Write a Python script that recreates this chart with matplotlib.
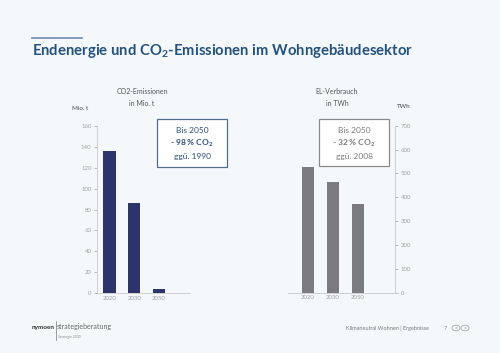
import matplotlib
matplotlib.use('Agg')
from matplotlib import pyplot as plt
from matplotlib.patches import Rectangle, Circle
from matplotlib.lines import Line2D

years = ['2020', '2030', '2050']
co2_values = [136, 86, 3.5]
el_values = [527, 464, 372]
co2_ticks = [0, 20, 40, 60, 80, 100, 120, 140, 160]
el_ticks = [0, 100, 200, 300, 400, 500, 600, 700]

bg_color = '#f5f8fb'
navy = '#2d336b'
grey_bar = '#7a7a7f'
title_color = '#22527f'
tick_color = '#a0a0a0'
spine_color = '#c8c8c8'

plt.rcParams['font.family'] = ['Lato', 'DejaVu Sans']
plt.rcParams['mathtext.fontset'] = 'custom'
plt.rcParams['mathtext.rm'] = 'Lato'
plt.rcParams['mathtext.bf'] = 'Lato:bold'

fig = plt.figure(figsize=(5, 3.53), dpi=100)
fig.patch.set_facecolor(bg_color)


def px(x, y):
    # pixel coords (top-left origin) -> figure fraction
    return x / 500, 1 - y / 353


def style_axes(ax, side):
    ax.set_facecolor('none')
    for s in ['top', 'right', 'left', 'bottom']:
        ax.spines[s].set_visible(False)
    for s in ['bottom', side]:
        ax.spines[s].set_visible(True)
        ax.spines[s].set_color(spine_color)
        ax.spines[s].set_linewidth(0.6)
    ax.tick_params(axis='y', colors=tick_color, labelsize=4.3, length=2, width=0.5, pad=2)
    ax.tick_params(axis='x', colors=tick_color, labelsize=4.3, length=0, pad=2)
    if side == 'right':
        ax.yaxis.tick_right()


# left chart: CO2
ax1 = fig.add_axes([97 / 500, 60 / 353, 93 / 500, 167 / 353])
ax1.bar(range(len(years)), co2_values, width=0.5, color=navy)
ax1.set_xlim(-0.505, 3.25)
ax1.set_ylim(0, 160)
ax1.set_yticks(co2_ticks)
ax1.set_xticks(range(len(years)))
ax1.set_xticklabels(years)
style_axes(ax1, 'left')

# right chart: electricity
ax2 = fig.add_axes([288 / 500, 60.3 / 353, 107 / 500, 167 / 353])
ax2.bar(range(len(years)), el_values, width=0.47, color=grey_bar)
ax2.set_xlim(-0.8, 3.5)
ax2.set_ylim(0, 700)
ax2.set_yticks(el_ticks)
ax2.set_xticks(range(len(years)))
ax2.set_xticklabels(years)
style_axes(ax2, 'right')

# title and accent line
fig.add_artist(Line2D([32 / 500, 82 / 500], [1 - 38 / 353] * 2, color='#6a8bab', lw=1.2))
fig.text(*px(32, 51), r'Endenergie und CO$_\mathbf{2}$-Emissionen im Wohngebäudesektor',
         fontsize=10.7, fontweight='bold', color=title_color, va='center', ha='left')

# chart headings
fig.text(*px(142, 92), 'CO2-Emissionen', fontsize=5, color='#555555', ha='center', va='center')
fig.text(*px(142, 104), 'in Mio. t', fontsize=5, color='#555555', ha='center', va='center')
fig.text(*px(80, 109), 'Mio. t', fontsize=4.5, color='#444444', ha='center', va='center')

fig.text(*px(337, 92), 'EL-Verbrauch', fontsize=5, color='#555555', ha='center', va='center')
fig.text(*px(337, 104), 'in TWh', fontsize=5, color='#555555', ha='center', va='center')
fig.text(*px(404, 107), 'TWh', fontsize=4.5, color='#444444', ha='center', va='center')

# annotation boxes
boxes = [
    (157, 119, 70, 48, '#4f6f8c', '#2d4a7a', 'Bis 2050', r'- 98 % CO$_\mathbf{2}$', 'ggü. 1990'),
    (319, 119, 70, 47, '#8a8a8a', '#7a7a7a', 'Bis 2050', r'- 32 % CO$_\mathbf{2}$', 'ggü. 2008'),
]
for x0, y0, w, h, edge, txt, l1, l2, l3 in boxes:
    fig.add_artist(Rectangle(px(x0, y0 + h), w / 500, h / 353, transform=fig.transFigure,
                             facecolor='white', edgecolor=edge, lw=0.9))
    cx = x0 + w / 2
    fig.text(*px(cx, y0 + 11), l1, fontsize=6, color=txt, ha='center', va='center')
    fig.text(*px(cx, y0 + 24), l2, fontsize=6, color=txt, ha='center', va='center', fontweight='bold')
    fig.text(*px(cx, y0 + 37), l3, fontsize=6, color=txt, ha='center', va='center')

# footer
fig.text(*px(32, 327), 'nymoen', fontsize=4.6, color='#333333', ha='left', va='center', fontweight='bold')
fig.add_artist(Line2D([55.5 / 500] * 2, [1 - 321 / 353, 1 - 340 / 353], color='#555555', lw=0.4))
fig.text(*px(57, 327), 'strategieberatung', fontsize=5, color='#666666', ha='left', va='center')
fig.text(*px(58, 337), 'Strategie 2030', fontsize=2.5, color='#888888', ha='left', va='center')

fig.text(*px(387, 328), 'Klimaneutral Wohnen | Ergebnisse', fontsize=4, color='#777777',
         ha='center', va='center')
fig.text(*px(445, 328), '7', fontsize=4, color='#888888', ha='center', va='center')
for cx, sym in [(456, '<'), (465, '>')]:
    fig.add_artist(Circle(px(cx, 328), 4 / 500, transform=fig.transFigure,
                          facecolor='none', edgecolor='#999999', lw=0.5))
    fig.text(*px(cx, 328), sym, fontsize=4, color='#999999', ha='center', va='center')

fig.savefig('out.png', dpi=100, facecolor=bg_color)
plt.close()
